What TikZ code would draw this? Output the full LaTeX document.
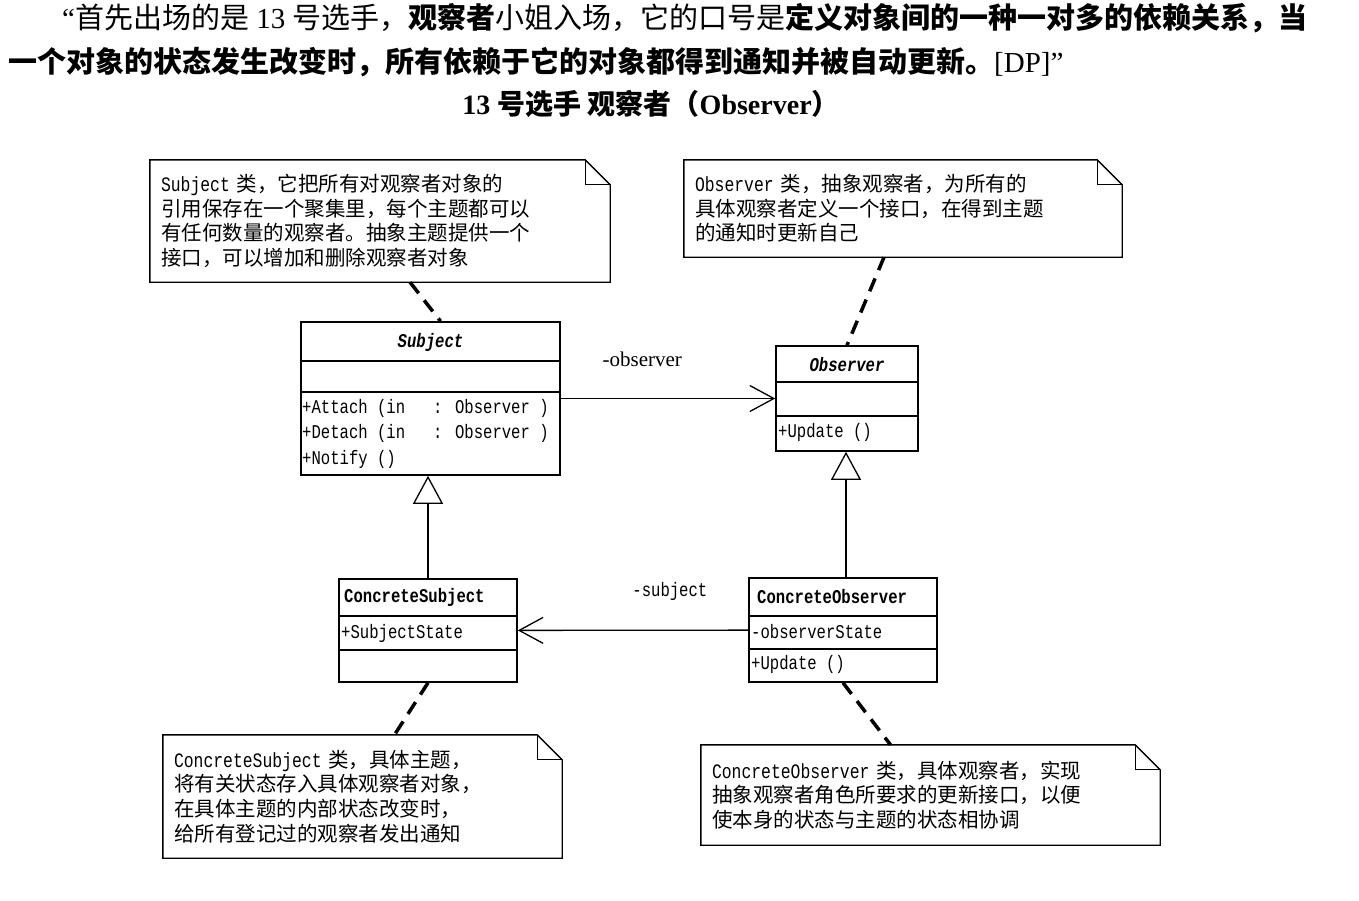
\documentclass[tikz,border=0pt]{standalone}
\usepackage{fontspec}
\setmainfont{Liberation Serif}
\newfontfamily\cjk{Noto Sans CJK SC}
\newfontfamily\umlmono[FakeStretch=0.8]{Liberation Mono}
\usetikzlibrary{arrows.meta}

% note box with a folded corner
\newcommand{\foldnote}[1]{%
    \draw[line width=1.4pt] (#1.north west) -- ([xshift=-25pt]#1.north east) -- ([yshift=-25pt]#1.north east)
        -- (#1.south east) -- (#1.south west) -- cycle;
    \draw[line width=1.2pt] ([xshift=-25pt]#1.north east) -- ([xshift=-25pt,yshift=-25pt]#1.north east)
        -- ([yshift=-25pt]#1.north east);
}

\begin{document}
\begin{tikzpicture} [x=1pt, y=-1pt,
        every node/.style={inner sep=0pt},
        headline/.style={anchor=west, font=\fontsize{29}{34}\selectfont},
        cls/.style={draw, line width=1.6pt, fill=white},
        clsname/.style={font=\umlmono\bfseries\fontsize{19.5}{25.5}\selectfont},
        member/.style={anchor=west, align=left, font=\umlmono\fontsize{19.5}{25.5}\selectfont},
        note/.style={inner xsep=11pt, align=left, font=\cjk\fontsize{20.5}{24.6}\selectfont},
        notelink/.style={line width=3.5pt, dash pattern=on 14pt off 9pt},
        assoc/.style={-{Straight Barb[length=24pt, width=26pt]}, line width=1.3pt},
        inherit/.style={-{Triangle[open, length=28pt, width=30pt, fill=white]}, line width=1.3pt}]
    \useasboundingbox (0,0) rectangle (1359,900);

    % heading
    \node[headline] (line1) at (62,18)
        {“{\cjk 首先出场的是} 13 {\cjk 号选手，{\bfseries 观察者}小姐入场，它的口号是{\bfseries 定义对象间的一种一对多的依赖关系，当}}};
    \node[headline] (line2) at (8,62)
        {{\cjk\bfseries 一个对象的状态发生改变时，所有依赖于它的对象都得到通知并被自动更新。}[DP]”};
    \node[font=\bfseries\fontsize{28}{32}\selectfont] (title) at (651,104)
        {13 {\cjk 号选手 观察者（}Observer{\cjk ）}};

    % classes
    \node[cls, minimum width=259pt, minimum height=153pt] (subj) at (430.5,398.5) {};
    \node[cls, minimum width=142pt, minimum height=105pt] (obs) at (847,398.5) {};
    \node[cls, minimum width=178pt, minimum height=103pt] (csubj) at (428,630.5) {};
    \node[cls, minimum width=188pt, minimum height=104pt] (cobs) at (843,630) {};

    \draw[line width=1.6pt] ([yshift=-40pt]subj.north west) -- ([yshift=-40pt]subj.north east);
    \draw[line width=1.6pt] ([yshift=-71pt]subj.north west) -- ([yshift=-71pt]subj.north east);
    \draw[line width=1.6pt] ([yshift=-37pt]obs.north west) -- ([yshift=-37pt]obs.north east);
    \draw[line width=1.6pt] ([yshift=-71pt]obs.north west) -- ([yshift=-71pt]obs.north east);
    \draw[line width=1.6pt] ([yshift=-38pt]csubj.north west) -- ([yshift=-38pt]csubj.north east);
    \draw[line width=1.6pt] ([yshift=-72pt]csubj.north west) -- ([yshift=-72pt]csubj.north east);
    \draw[line width=1.6pt] ([yshift=-39pt]cobs.north west) -- ([yshift=-39pt]cobs.north east);
    \draw[line width=1.6pt] ([yshift=-72pt]cobs.north west) -- ([yshift=-72pt]cobs.north east);

    \node[clsname] (subjname) at (430.5,342) {\itshape Subject};
    \node[member] (subjops) at (302,433.5) {+Attach (in~~~: Observer )\\+Detach (in~~~: Observer )\\+Notify ()};
    \node[clsname] (obsname) at (847,364.5) {\itshape Observer};
    \node[member] (obsops) at (778,432) {+Update ()};
    \node[clsname, anchor=west] (csubjname) at (344,597) {ConcreteSubject};
    \node[member] (csubjattr) at (341,633) {+SubjectState};
    \node[clsname, anchor=west] (cobsname) at (757,597) {ConcreteObserver};
    \node[member] (cobsattr) at (751,632) {-observerState};
    \node[member] (cobsops) at (751,664) {+Update ()};

    % notes
    \node[note, minimum width=460pt, minimum height=122pt, text width=438pt] (n1) at (380,221)
        {{\umlmono Subject} 类，它把所有对观察者对象的\\引用保存在一个聚集里，每个主题都可以\\有任何数量的观察者。抽象主题提供一个\\接口，可以增加和删除观察者对象};
    \node[note, minimum width=438pt, minimum height=97pt, text width=416pt] (n2) at (903,208.5)
        {{\umlmono Observer} 类，抽象观察者，为所有的\\具体观察者定义一个接口，在得到主题\\的通知时更新自己};
    \node[note, minimum width=399pt, minimum height=123pt, text width=377pt] (n3) at (362.5,796.5)
        {{\umlmono ConcreteSubject} 类，具体主题，\\将有关状态存入具体观察者对象，\\在具体主题的内部状态改变时，\\给所有登记过的观察者发出通知};
    \node[note, minimum width=459pt, minimum height=100pt, text width=437pt] (n4) at (930.5,795)
        {{\umlmono ConcreteObserver} 类，具体观察者，实现\\抽象观察者角色所要求的更新接口，以便\\使本身的状态与主题的状态相协调};
    \foldnote{n1}
    \foldnote{n2}
    \foldnote{n3}
    \foldnote{n4}

    % links
    \draw[notelink] ([xshift=30pt]n1.south) -- ([xshift=10pt]subj.north);
    \draw[notelink] ([xshift=-19pt]n2.south) -- (obs.north);
    \draw[notelink] (csubj.south) -- ([xshift=32pt]n3.north);
    \draw[notelink] (cobs.south) -- ([xshift=-40pt]n4.north);

    \draw[assoc] (subj) -- (obs) node [pos=0.38, yshift=39.5pt, font=\fontsize{21}{24}\selectfont] {-observer};
    \draw[assoc] (cobs) -- (csubj) node [pos=0.34, yshift=39pt, font=\umlmono\fontsize{19.5}{22}\selectfont] {-subject};
    \draw[inherit] (csubj.north) -- (csubj.north |- subj.south);
    \draw[inherit] ([xshift=3pt]cobs.north) -- ([xshift=3pt]cobs.north |- obs.south);
\end{tikzpicture}
\end{document}
